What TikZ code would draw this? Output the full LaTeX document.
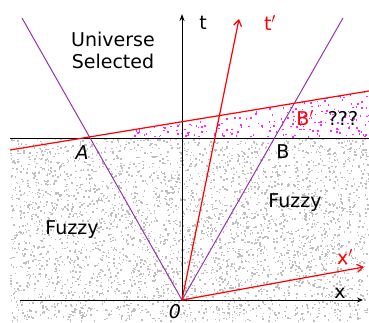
\documentclass[tikz,border=0pt]{standalone}
\usepackage{fontspec}
\setmainfont{DejaVu Sans}
\usepackage{tikz}
\usetikzlibrary{arrows.meta}
\definecolor{conecol}{RGB}{150,50,170}
\definecolor{dotgray}{RGB}{190,190,190}
\definecolor{dotpink}{RGB}{255,40,255}

\begin{document}
\begin{tikzpicture}[x=1pt,y=1pt,
      lbl/.style={font=\fontsize{19}{22}\selectfont,inner sep=0pt},
      axis/.style={black,line width=1pt},
      cone/.style={conecol,line width=1pt},
      prime/.style={red,line width=1.2pt},
      every node/.style={lbl}
]
\useasboundingbox (0,0) rectangle (369,322);
% fuzzy region below the line
\begin{scope}
  \clip (10,0) rectangle (369,184);
  \pgfmathsetseed{11}
  \foreach \i in {1,...,3800} {
    \fill[dotgray] ({10+359*rnd},{184*rnd}) rectangle ++(1.5,1.5);
  }
\end{scope}
% selected strip
\begin{scope}
  \clip (83,184) -- (369,231) -- (369,184) -- cycle;
  \pgfmathsetseed{5}
  \foreach \i in {1,...,340} {
    \fill[dotpink] ({130+239*rnd},{184+47*rnd}) rectangle ++(1.6,1.6);
  }
\end{scope}

\coordinate (O) at (182,22);
\coordinate (tend) at (182,308);
\coordinate (xbeg) at (20,22);
\coordinate (xend) at (363,22);
\coordinate (hl) at (10,184);
\coordinate (hr) at (369,184);
\coordinate (cl) at (22,304);
\coordinate (cr) at (343,304);
\coordinate (tpend) at (239,303);
\coordinate (xpend) at (364,55);
\coordinate (sl) at (10,172);
\coordinate (sr) at (369,231);

\draw[axis] (hl) -- (hr);
\draw[axis,-{Stealth[length=7pt,width=5pt]}] (O) -- (tend);
\draw[axis,-{Stealth[length=6pt,width=5pt]}] (xbeg) -- (xend);
\draw[cone] (O) -- (cl);
\draw[cone] (O) -- (cr);
\draw[prime] (sl) -- (sr);
\draw[prime,-{Straight Barb[length=6pt,width=8pt]}] (O) -- (tpend);
\draw[prime,-{Straight Barb[length=6pt,width=8pt]}] (O) -- (xpend);

\node[align=center] (univ) at (113,272) {Universe\\Selected};
\node (tlab) at (203,299) {t};
\node[red] (tplab) at (270,299) {t$'$};
\node[red] (bplab) at (305,204) {B$'$};
\node (qlab) at (343,204) {???};
\node (alab) at (82,169) {\itshape A};
\node (blab) at (283,170) {B};
\node (fz1) at (72,92) {Fuzzy};
\node (fz2) at (295,119) {Fuzzy};
\node[red] (xplab) at (345,65) {x$'$};
\node (xlab) at (340,29) {x};
\node (olab) at (175,10) {\itshape 0};
\end{tikzpicture}
\end{document}
